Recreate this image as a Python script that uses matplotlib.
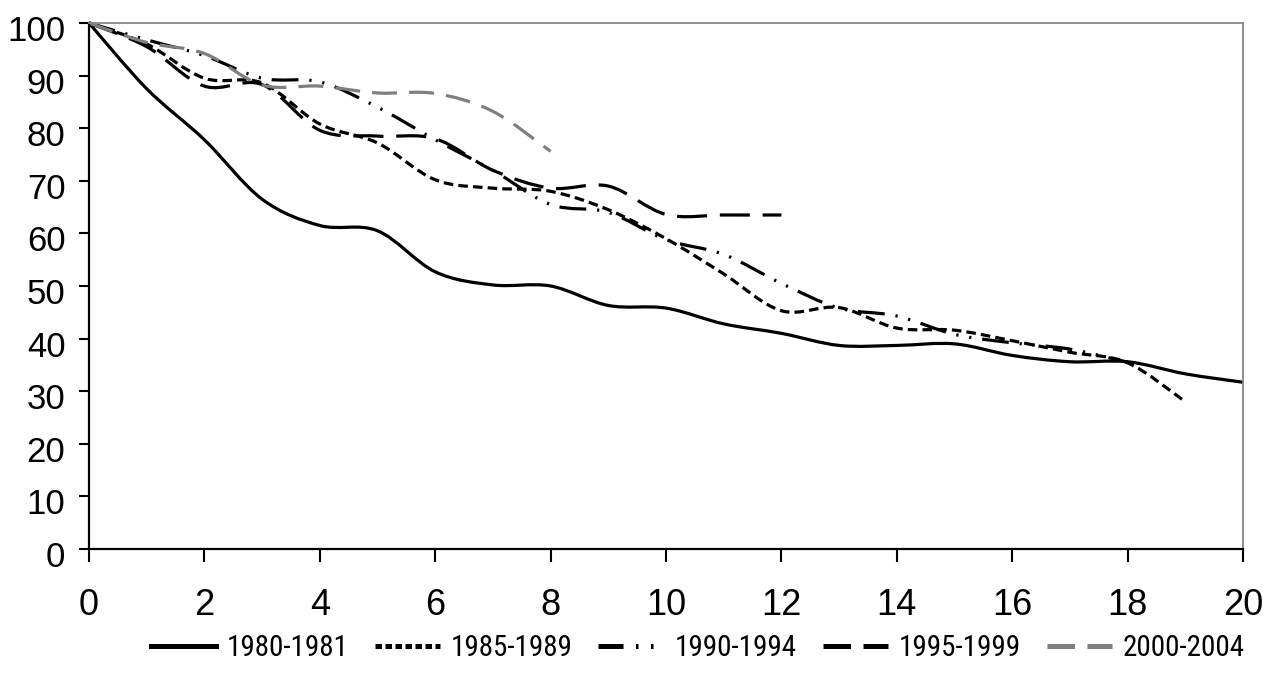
import numpy as np
import matplotlib
matplotlib.use("Agg")
import matplotlib.pyplot as plt
from matplotlib.path import Path
from matplotlib.patches import PathPatch
from matplotlib.lines import Line2D
from matplotlib import font_manager as fm
import matplotlib.transforms as mtrans

# ---------------- data ----------------
years_1980 = list(range(0, 21))
surv_1980 = [100, 87.5, 77.8, 66.5, 61.5, 60.5, 52.7, 50.2, 50.0, 46.3, 45.8,
             42.8, 41.0, 38.7, 38.7, 39.0, 36.8, 35.6, 35.6, 33.3, 31.7]

years_1985 = list(range(0, 20))
surv_1985 = [100, 96.0, 89.5, 88.6, 80.8, 77.2, 70.2, 68.6, 68.0, 64.5, 59.0,
             52.3, 45.3, 45.9, 42.0, 41.6, 39.6, 37.4, 35.4, 28.0]

years_1990 = list(range(0, 19))
surv_1990 = [100, 96.8, 93.8, 89.5, 88.8, 84.0, 77.8, 72.0, 65.5, 64.0, 58.8,
             56.0, 50.5, 45.8, 44.3, 40.8, 39.2, 38.0, 35.5]

years_1995 = list(range(0, 13))
surv_1995 = [100, 95.5, 88.0, 88.3, 79.6, 78.5, 78.0, 72.0, 68.6, 69.0, 63.6,
             63.5, 63.5]

years_2000 = list(range(0, 9))
surv_2000 = [100, 96.3, 94.2, 88.2, 88.0, 86.7, 86.6, 83.2, 75.6]

series_labels = ["1980-1981", "1985-1989", "1990-1994", "1995-1999", "2000-2004"]
x_ticks = list(range(0, 21, 2))
y_ticks = list(range(0, 101, 10))

# ---------------- fonts ----------------
avail = {f.name for f in fm.fontManager.ttflist}
tick_font = "Liberation Sans" if "Liberation Sans" in avail else "DejaVu Sans"


def pick_narrow():
    entries = [f for f in fm.fontManager.ttflist
               if f.style == "normal" and f.weight in (400, "normal", "regular")]
    prefs = ["Liberation Sans Narrow", "Arial Narrow", "Roboto Condensed",
             "Open Sans Condensed", "Noto Sans Condensed"]
    for p in prefs:
        for f in entries:
            if f.name == p:
                return f.fname, True
    for f in entries:
        low = (f.name + " " + f.fname).lower()
        if ("narrow" in low or "condensed" in low) and "mono" not in low and "serif" not in low:
            return f.fname, True
    for f in entries:
        if f.stretch in ("condensed", "semi-condensed", "extra-condensed") and f.name in (
                "DejaVu Sans", "Noto Sans", "Open Sans", "Roboto"):
            return f.fname, True
    return None, False


narrow_file, is_narrow = pick_narrow()
if is_narrow:
    leg_prop = fm.FontProperties(fname=narrow_file, size=21)
else:
    leg_prop = fm.FontProperties(family=tick_font, size=17.5)


def smooth_path(xs, ys):
    """Excel-style smoothed line: cubic Bezier through the data points."""
    pts = np.column_stack([xs, ys]).astype(float)
    n = len(pts)
    verts = [pts[0]]
    codes = [Path.MOVETO]
    for i in range(n - 1):
        p0 = pts[i - 1] if i > 0 else pts[i]
        p1 = pts[i]
        p2 = pts[i + 1]
        p3 = pts[i + 2] if i + 2 < n else pts[i + 1]
        c1 = p1 + (p2 - p0) / 6.0
        c2 = p2 - (p3 - p1) / 6.0
        verts += [c1, c2, p2]
        codes += [Path.CURVE4] * 3
    return Path(verts, codes)


fig = plt.figure(figsize=(12.8, 6.92), dpi=100)
ax = fig.add_axes([89 / 1280, 1 - 549 / 692, (1243 - 89) / 1280, (549 - 23) / 692])

LW = 2.3
styles = [
    dict(color="black", ls="-"),
    dict(color="black", ls=(0, (3.0, 1.6))),
    dict(color="black", ls=(0, (8.4, 3.4, 0.7, 3.4, 0.7, 3.4))),
    dict(color="black", ls=(0, (9.4, 4.0))),
    dict(color="#7f7f7f", ls=(0, (7.8, 3.8))),
]
leg_styles = [
    "-",
    (0, (1.3, 0.7)),
    (0, (5.0, 2.5, 0.5, 2.5, 0.5, 2.5)),
    (0, (5.5, 2.5)),
    (0, (5.5, 2.5)),
]
data = [(years_1980, surv_1980), (years_1985, surv_1985), (years_1990, surv_1990),
        (years_1995, surv_1995), (years_2000, surv_2000)]

handles = []
for (xs, ys), st, lst, lab in zip(data, styles, leg_styles, series_labels):
    patch = PathPatch(smooth_path(xs, ys), fill=False, edgecolor=st["color"],
                      linewidth=LW, linestyle=st["ls"], clip_on=False,
                      capstyle="butt", joinstyle="round")
    ax.add_patch(patch)
    handles.append(Line2D([], [], color=st["color"], lw=3.6, linestyle=lst,
                          label=lab))

ax.set_xlim(0, 20)
ax.set_ylim(0, 100)
ax.set_xticks(x_ticks)
ax.set_yticks(y_ticks)

for s in ["top", "right"]:
    ax.spines[s].set_color("#8a8a8a")
    ax.spines[s].set_linewidth(1.3)
for s in ["left", "bottom"]:
    ax.spines[s].set_color("black")
    ax.spines[s].set_linewidth(1.6)

ax.tick_params(axis="y", direction="out", length=7, width=1.5, pad=10,
               labelsize=25, colors="black")
ax.tick_params(axis="x", direction="out", length=9, width=1.5, pad=19,
               labelsize=26, colors="black")
for lab in ax.get_xticklabels() + ax.get_yticklabels():
    lab.set_fontfamily(tick_font)

offset = mtrans.ScaledTranslation(0, -5 / 100, fig.dpi_scale_trans)
for lab in ax.get_yticklabels():
    lab.set_transform(lab.get_transform() + offset)

leg = fig.legend(handles=handles, loc="center", bbox_to_anchor=(0.545, 1 - 648 / 692),
                 ncol=5, frameon=False, handlelength=2.25, handletextpad=0.35,
                 columnspacing=0.9, prop=leg_prop)

fig.savefig("out.png", dpi=100)
